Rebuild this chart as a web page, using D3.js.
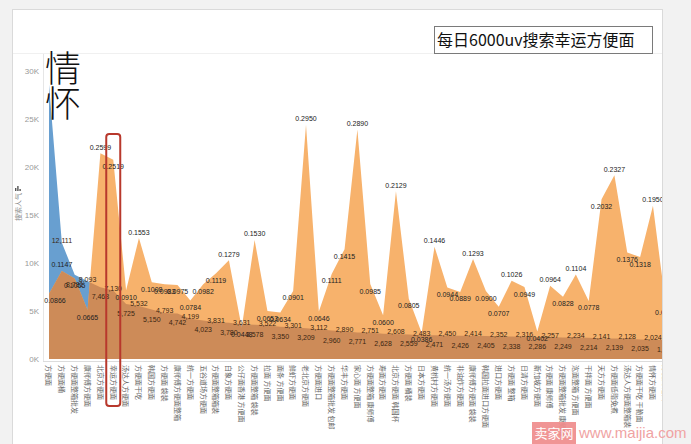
<!DOCTYPE html>
<html>
<head>
<meta charset="utf-8">
<script src="https://cdn.jsdelivr.net/npm/d3@7"></script>
<style>
  body { margin: 0; background: #f2f2f2; }
  svg { display: block; }
  text { font-family: "Liberation Sans", Arial, sans-serif; }
  .cjk { font-family: "Noto Sans CJK SC", "Noto Sans", sans-serif; }
</style>
</head>
<body>
<script>
// keywords, sorted by search popularity
var categories = [
  '方便面', '方便面桶', '方便面整箱批发', '康师傅方便面', '北京方便面', '幸运方便面',
  '汤达人方便面', '方便面干吃', '韩国方便面', '方便面 袋装', '康师傅方便面整箱', '统一方便面',
  '五谷道场方便面', '方便面整箱箱装', '白象方便面', '公仔面香港 方便面', '方便面整箱 袋装', '拉面 方便面',
  '面条 方便面', '鲜虾方便面', '老北京方便面', '方便面进口', '方便面整箱批发 包邮', '华丰方便面',
  '家心面 方便面', '方便面整箱 康师傅', '寿面方便面', '北京方便面 韩国杯', '方便面 桶装', '日本方便面',
  '黄桃村方便面', '统一汤方便面', '非油炸方便面', '康师傅方便面 袋装', '韩国拉面进口方便面', '进口方便面',
  '方便面 整箱', '日清方便面', '新加坡方便面', '方便面 康师傅', '方便面整箱批发 康师傅', '泡面整箱 方便面',
  '干拌面 方便面', '天方方便面', '方便面低脂免煮', '汤达人方便面整箱装', '方便面干吃 干脆面', '情怀方便面',
  '方便面 泡面'
];

// 搜索人气
var popularity = [
  28600, 12111, 8781, 8093, 7468, 7130, 5725, 5532, 5150, 4793,
  4742, 4199, 4023, 3831, 3780, 3631, 3578, 3522, 3350, 3301,
  3209, 3112, 2960, 2890, 2771, 2751, 2628, 2608, 2559, 2483,
  2471, 2450, 2426, 2414, 2405, 2352, 2338, 2316, 2286, 2257,
  2249, 2234, 2214, 2141, 2139, 2128, 2035, 2024, 1950
];

// second measure (ratio), drawn on its own hidden axis
var ratio = [
  0.0866, 0.1147, 0.1055, 0.0665, 0.2599, 0.2519, 0.0910, 0.1553, 0.1008, 0.0983,
  0.0975, 0.0784, 0.0982, 0.1119, 0.1279, 0.0448, 0.1530, 0.0653, 0.0634, 0.0901,
  0.2950, 0.0646, 0.1111, 0.1415, 0.2890, 0.0985, 0.0600, 0.2129, 0.0805, 0.0386,
  0.1446, 0.0944, 0.0889, 0.1293, 0.0900, 0.0707, 0.1026, 0.0949, 0.0402, 0.0964,
  0.0828, 0.1104, 0.0778, 0.2032, 0.2327, 0.1376, 0.1318, 0.1950, 0.0716
];

var yTicks = [0, 5000, 10000, 15000, 20000, 25000, 30000];
var highlight = '幸运方便面';

var width = 691;
var height = 444;
var pane = {left: 43, right: 662, top: 54, bottom: 360};

var rows = categories.map(function(c, i) {
  return {name: c, pop: popularity[i], ratio: ratio[i], index: i};
});

var svg = d3.select('body').append('svg')
  .attr('width', width)
  .attr('height', height);

// dashboard panel
svg.append('rect')
  .attr('x', 12.5).attr('y', 9.5)
  .attr('width', pane.right - 12).attr('height', height)
  .attr('fill', '#fff')
  .attr('stroke', '#dadada');

svg.append('line')
  .attr('x1', 13).attr('x2', pane.right)
  .attr('y1', 53.5).attr('y2', 53.5)
  .attr('stroke', '#f0f0f0');

var x = d3.scalePoint()
  .domain(categories)
  .range([49, 49 + 12.85 * (categories.length - 1)]);

var yP = d3.scaleLinear().domain([0, 30000]).range([359, 71]);
var yR = d3.scaleLinear().domain([0, 0.36]).range([364, 72]);

var defs = svg.append('defs');
defs.append('clipPath').attr('id', 'pane-clip')
  .append('rect')
  .attr('x', pane.left).attr('y', 0)
  .attr('width', pane.right - pane.left).attr('height', height);

var blueArea = d3.area()
  .x(function(d) { return x(d.name); })
  .y0(yP(0))
  .y1(function(d) { return yP(d.pop); });

var orangeArea = d3.area()
  .x(function(d) { return x(d.name); })
  .y0(yP(0))
  .y1(function(d) { return yR(d.ratio); });

defs.append('clipPath').attr('id', 'blue-clip')
  .append('path')
  .attr('d', blueArea(rows));

var plot = svg.append('g').attr('clip-path', 'url(#pane-clip)');

plot.append('path')
  .attr('d', blueArea(rows))
  .attr('fill', '#689fd0');

plot.append('path')
  .attr('d', orangeArea(rows))
  .attr('fill', '#f7b26c');

// overlap of the two areas
plot.append('g').attr('clip-path', 'url(#blue-clip)')
  .append('path')
  .attr('d', orangeArea(rows))
  .attr('fill', '#cd8b58');

// axis lines
svg.append('line')
  .attr('x1', pane.left + 0.5).attr('x2', pane.left + 0.5)
  .attr('y1', pane.top).attr('y2', pane.bottom + 2)
  .attr('stroke', '#e6e6e6');
svg.append('line')
  .attr('x1', pane.left).attr('x2', pane.right)
  .attr('y1', pane.bottom + 1.5).attr('y2', pane.bottom + 1.5)
  .attr('stroke', '#dcdcdc');

// y axis
var yAxis = svg.append('g')
  .attr('transform', 'translate(' + 39 + ',0)')
  .call(d3.axisLeft(yP)
    .tickValues(yTicks)
    .tickSize(0)
    .tickPadding(0)
    .tickFormat(function(d) { return (d / 1000) + 'K'; }));
yAxis.select('.domain').remove();
yAxis.selectAll('text')
  .attr('fill', '#999')
  .style('font-size', '8px');

// y axis title with its little icon
var titleG = svg.append('g').attr('transform', 'translate(19,207) rotate(-90)');
titleG.append('text')
  .attr('class', 'cjk')
  .attr('text-anchor', 'middle')
  .attr('dy', '0.35em')
  .attr('fill', '#8a8a8a')
  .style('font-size', '7px')
  .text('搜索人气');
[3, 5, 2].forEach(function(h, i) {
  svg.append('rect')
    .attr('x', 15 + i * 2.2).attr('y', 191 - h)
    .attr('width', 1.4).attr('height', h)
    .attr('fill', '#555');
});

// x axis labels
var xLabels = svg.append('g').attr('clip-path', 'url(#pane-clip)');
xLabels.selectAll('text')
  .data(rows)
  .enter().append('text')
    .attr('class', 'cjk')
    .attr('transform', function(d) { return 'translate(' + x(d.name) + ',365) rotate(90)'; })
    .attr('dy', '0.38em')
    .attr('fill', '#666')
    .style('font-size', '7px')
    .text(function(d) { return d.name; });

// value labels
var labels = svg.append('g').attr('clip-path', 'url(#pane-clip)');

function isPeak(i) {
  var r = ratio[i];
  var prev = i > 0 ? ratio[i - 1] : -1;
  var next = i < ratio.length - 1 ? ratio[i + 1] : -1;
  return r >= prev && r >= next;
}

labels.selectAll('.ratio-label')
  .data(rows)
  .enter().append('text')
    .attr('class', 'ratio-label')
    .attr('x', function(d) { return Math.max(x(d.name), pane.left + 12); })
    .attr('y', function(d) { return yR(d.ratio) + (isPeak(d.index) ? -3.5 : 9.5); })
    .attr('text-anchor', 'middle')
    .attr('fill', '#222')
    .style('font-size', '7px')
    .text(function(d) { return d3.format('.4f')(d.ratio); });

labels.selectAll('.pop-label')
  .data(rows.filter(function(d) { return d.index > 0; }))
  .enter().append('text')
    .attr('class', 'pop-label')
    .attr('x', function(d) { return x(d.name); })
    .attr('y', function(d) { return yP(d.pop) + (d.index % 2 === 1 ? 0.5 : 12); })
    .attr('text-anchor', 'middle')
    .attr('fill', '#3a2612')
    .style('font-size', '7px')
    .text(function(d) { return d3.format(',')(d.pop); });

// highlight box round the keyword
svg.append('rect')
  .attr('x', x(highlight) - 7).attr('y', 134)
  .attr('width', 14).attr('height', 272)
  .attr('rx', 3)
  .attr('fill', 'none')
  .attr('stroke', '#b8382c')
  .attr('stroke-width', 2);

// big annotation
svg.append('text').attr('class', 'cjk')
  .attr('x', 45).attr('y', 82)
  .attr('fill', '#111')
  .style('font-size', '36px').style('font-weight', 300)
  .text('情');
svg.append('text').attr('class', 'cjk')
  .attr('x', 45).attr('y', 117)
  .attr('fill', '#111')
  .style('font-size', '36px').style('font-weight', 300)
  .text('怀');

// title box
svg.append('rect')
  .attr('x', 434.5).attr('y', 26.5)
  .attr('width', 218).attr('height', 27)
  .attr('fill', '#fff')
  .attr('stroke', '#7a7a7a');
svg.append('text').attr('class', 'cjk')
  .attr('x', 437).attr('y', 46)
  .attr('fill', '#111')
  .style('font-size', '16px')
  .text('每日6000uv搜索幸运方便面');

// watermark
svg.append('rect')
  .attr('x', 532).attr('y', 422)
  .attr('width', 44).attr('height', 22)
  .attr('fill', '#ee8a8a').attr('opacity', 0.9);
svg.append('text').attr('class', 'cjk')
  .attr('x', 554).attr('y', 438)
  .attr('text-anchor', 'middle')
  .attr('fill', '#fff')
  .style('font-size', '13px')
  .text('卖家网');
svg.append('text')
  .attr('x', 579).attr('y', 438)
  .attr('fill', '#f0a3a3')
  .style('font-size', '15px')
  .text('www.maijia.com');
</script>
</body>
</html>
